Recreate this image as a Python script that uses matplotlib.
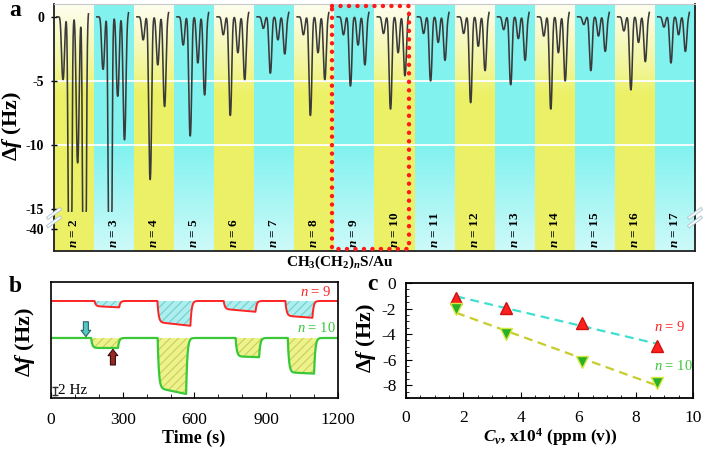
import numpy as np
import matplotlib
matplotlib.use('Agg')
import matplotlib.pyplot as plt
import matplotlib.transforms as mtransforms
from matplotlib.ticker import MultipleLocator, FixedLocator
from matplotlib.patches import Rectangle

plt.rcParams['font.family'] = 'Liberation Serif'
plt.rcParams['mathtext.fontset'] = 'custom'
plt.rcParams['mathtext.rm'] = 'Liberation Serif'
plt.rcParams['mathtext.it'] = 'Liberation Serif:italic'
plt.rcParams['mathtext.bf'] = 'Liberation Serif:bold'
plt.rcParams['mathtext.sf'] = 'Liberation Serif:bold:italic'
plt.rcParams['axes.unicode_minus'] = False
plt.rcParams['hatch.linewidth'] = 0.8

# ==========================================
# Dados - painel a (4 pulsos por comprimento de cadeia, Hz)
n_cadeia = list(range(2, 18))
picos_a = [
    [-4.9, -40.0, -11.4, -40.0],   # n = 2 (picos fora da escala)
    [-4.1, -40.0, -6.2, -9.6],     # n = 3
    [-1.8, -12.7, -3.75, -7.0],    # n = 4
    [-2.2, -9.3, -3.6, -6.1],      # n = 5
    [-1.4, -7.7, -2.8, -4.9],      # n = 6
    [-0.9, -4.4, -1.8, -2.9],      # n = 7
    [-1.4, -7.7, -2.8, -4.9],      # n = 8
    [-1.4, -5.4, -2.2, -3.75],     # n = 9
    [-1.3, -7.2, -2.8, -4.6],      # n = 10
    [-1.3, -5.0, -2.0, -3.4],      # n = 11
    [-1.3, -6.7, -2.3, -4.2],      # n = 12
    [-1.0, -5.3, -1.7, -3.4],      # n = 13
    [-1.5, -7.2, -2.8, -5.0],      # n = 14
    [-0.6, -4.2, -1.5, -2.7],      # n = 15
    [-1.1, -5.7, -2.0, -3.5],      # n = 16
    [-0.8, -3.6, -1.4, -2.7],      # n = 17
]
destaque = [9, 10]

# Dados - painel b (início s, fim s, nível inicial Hz, nível final Hz)
degraus_n9 = [
    (182, 285, -1.3, -1.6),
    (445, 583, -5.3, -6.2),
    (722, 855, -2.0, -2.7),
    (980, 1093, -3.7, -4.2),
]
degraus_n10 = [
    (168, 280, -2.5, -2.5),
    (446, 565, -12.5, -14.0),
    (772, 870, -4.6, -4.8),
    (990, 1100, -8.6, -8.9),
]
tempo_ticks = [0, 300, 600, 900, 1200]

# Dados - painel c
conc = [1.75, 3.5, 6.12, 8.75]
df_n9 = [-1.15, -1.95, -3.15, -4.9]
df_n10 = [-2.05, -4.0, -6.15, -7.8]

# ==========================================
fig = plt.figure(figsize=(7.03, 4.5), dpi=100)

pos_a = [0.0768, 0.4422, 0.9118, 0.5489]
amarelo = np.array([0.925, 0.945, 0.40])
ciano = np.array([0.51, 0.95, 0.94])

# fundo em gradiente por coluna
ax_bg = fig.add_axes(pos_a)
ax_bg.set_axis_off()
t = np.linspace(0, 1, 200)[:, None]
for i in range(len(n_cadeia)):
    if i % 2 == 0:
        base = amarelo
        w = np.clip((t - 0.64) / 0.36, 0, 1) ** 0.8 * 0.9
    else:
        base = ciano
        w = np.clip((0.42 - t) / 0.42, 0, 1) * 0.6
    rgb = base[None, None, :] * (1 - w[..., None]) + w[..., None]
    ax_bg.imshow(rgb, extent=(i, i + 1, 0, 1), origin='lower', aspect='auto',
                 interpolation='bilinear')
ax_bg.set_xlim(0, len(n_cadeia))
ax_bg.set_ylim(0, 1)

# eixo com quebra em -15
corte = -15.0
fator = 0.0625
def fwd(y):
    y = np.asarray(y, dtype=float)
    return np.where(y >= corte, y, corte + (y - corte) * fator)
def inv(p):
    p = np.asarray(p, dtype=float)
    return np.where(p >= corte, p, corte + (p - corte) / fator)

ax_a = fig.add_axes(pos_a)
ax_a.set_facecolor('none')
ax_a.set_yscale('function', functions=(fwd, inv))
ax_a.set_xlim(0, len(n_cadeia))
ax_a.set_ylim(float(inv(-18.28)), 1.0)

for yv in [-5, -10]:
    ax_a.axhline(yv, color='white', lw=1.3, zorder=1)

clip = Rectangle((0, float(inv(-15.22))), len(n_cadeia), 40, transform=ax_a.transData)
pos_rel = [0.225, 0.40, 0.59, 0.76]
xl = np.linspace(0.07, 0.86, 700)
for i, picos in enumerate(picos_a):
    y = np.zeros_like(xl)
    for c, d in zip(pos_rel, picos):
        y += d * np.exp(-0.5 * np.abs((xl - c) / 0.036) ** 2.4)
    y += 0.35 * np.clip((xl - 0.82) / 0.04, 0, 1) ** 2
    ln, = ax_a.plot(i + xl, y, color='#3a3a3a', lw=1.15, zorder=3)
    ln.set_clip_path(clip)

# rótulos das colunas
trans_a = mtransforms.blended_transform_factory(ax_a.transData, ax_a.transAxes)
for i, n in enumerate(n_cadeia):
    ax_a.text(i + 0.5, 0.012, '$\\mathsf{n}$ = %d' % n, rotation=90, ha='center',
              va='bottom', fontsize=9.5, fontweight='bold', transform=trans_a, zorder=4)

# retângulo pontilhado em n = 9 e 10
i0 = n_cadeia.index(destaque[0])
i1 = n_cadeia.index(destaque[-1])
x0, x1 = i0 - 0.05, i1 + 0.87
ax_a.plot([x0, x1, x1, x0, x0], [0.992, 0.992, 0.008, 0.008, 0.992], transform=trans_a,
          color='#ff1a1a', lw=3.2, linestyle=(0, (0.01, 1.9)), dash_capstyle='round',
          clip_on=False, zorder=5)

ax_a.set_yticks([0, -5, -10, -15, -40])
ax_a.set_yticklabels(['0', '-5', '-10', '-15', '-40'])
ax_a.yaxis.set_minor_locator(FixedLocator([]))
ax_a.set_xticks([])
ax_a.tick_params(axis='y', direction='inout', length=4, width=1, pad=5, labelsize=10)
for lbl in ax_a.get_yticklabels():
    lbl.set_fontweight('bold')
for s in ['left', 'bottom', 'right']:
    ax_a.spines[s].set_linewidth(1.3)
    ax_a.spines[s].set_color('#202020')
ax_a.spines['top'].set_color('#c8c8c8')
ax_a.spines['top'].set_linewidth(0.8)

# marcas de quebra do eixo
for xc in [0.0, 1.0]:
    for yc in [0.152, 0.118]:
        xs = [xc - 0.009, xc + 0.009]
        ys = [yc - 0.017, yc + 0.017]
        ax_a.plot(xs, ys, transform=ax_a.transAxes, color='#b8ccd8', lw=2.6,
                  clip_on=False, zorder=6)
        ax_a.plot(xs, ys, transform=ax_a.transAxes, color='white', lw=1.1,
                  clip_on=False, zorder=7)

fig.text(12 / 703, 1 - 126 / 450, 'Δ$\\mathsf{f}$ (Hz)', rotation=90, ha='center',
         va='center', fontsize=16, fontweight='bold')
fig.text(340 / 703, 1 - 262 / 450, 'CH$_\\mathbf{3}$(CH$_\\mathbf{2}$)$_\\mathsf{n}$S/Au',
         ha='center', va='center', fontsize=11, fontweight='bold')
fig.text(15 / 703, 1 - 11 / 450, 'a', ha='center', va='center', fontsize=17, fontweight='bold')

# ==========================================
# painel b
ax_b = fig.add_axes([0.0725, 0.1156, 0.4083, 0.2578])
tempo = np.linspace(0, 1200, 4801)

def traco(degraus, tau=5.0):
    y = np.zeros_like(tempo)
    for ini, fim, d0, d1 in degraus:
        nivel = d0 + (d1 - d0) * np.clip((tempo - ini) / (fim - ini), 0, 1)
        dentro = (tempo >= ini) & (tempo <= fim)
        y += np.where(dentro, nivel * (1 - np.exp(-(tempo - ini) / tau)), 0)
        y_fim = d1 * (1 - np.exp(-(fim - ini) / tau))
        y += np.where(tempo > fim, y_fim * np.exp(-np.clip(tempo - fim, 0, None) / tau), 0)
    return y

base9, base10 = 0.0, -9.25
y9 = base9 + traco(degraus_n9)
y10 = base10 + traco(degraus_n10)
ax_b.fill_between(tempo, base9, y9, facecolor='#aeeeee', edgecolor='#6fcfcf',
                  hatch='////', linewidth=0)
ax_b.fill_between(tempo, base10, y10, facecolor='#eef28e', edgecolor='#c9d052',
                  hatch='////', linewidth=0)
ax_b.plot(tempo, y9, color='#ff2424', lw=1.4)
ax_b.plot(tempo, y10, color='#38c838', lw=1.6)

ax_b.text(1172, 2.3, '$\\mathit{n}$ = 9', color='#ff2424', ha='right', va='center', fontsize=10.5)
ax_b.text(1190, -6.8, '$\\mathit{n}$ = 10', color='#38c838', ha='right', va='center', fontsize=10.5)

estilo = 'simple,head_length=0.45,head_width=0.7,tail_width=0.36'
ax_b.annotate('', xy=(146, -8.9), xytext=(146, -5.2),
              arrowprops=dict(arrowstyle=estilo, mutation_scale=10, shrinkA=0, shrinkB=0,
                              fc='#52c8c4', ec='#2a6468', lw=0.8))
ax_b.annotate('', xy=(259, -12.1), xytext=(259, -16.0),
              arrowprops=dict(arrowstyle=estilo, mutation_scale=10, shrinkA=0, shrinkB=0,
                              fc='#962828', ec='#3a0c0c', lw=0.8))

ax_b.plot([18, 18], [-21.5, -23.5], color='#303030', lw=1.0, marker='_', ms=5, mew=1.0)
ax_b.text(28, -22.5, '2 Hz', ha='left', va='center', fontsize=11)

ax_b.set_xlim(0, 1200)
ax_b.set_ylim(-24.25, 4.75)
ax_b.set_xticks(tempo_ticks)
ax_b.xaxis.set_minor_locator(MultipleLocator(100))
ax_b.set_yticks([])
ax_b.tick_params(axis='x', which='both', direction='in', top=False, labelsize=12.5, pad=10)
ax_b.tick_params(axis='x', which='major', length=4)
ax_b.tick_params(axis='x', which='minor', length=3)
for s in ax_b.spines.values():
    s.set_linewidth(1.2)

fig.text(25 / 703, 1 - 342 / 450, 'Δ$\\mathsf{f}$ (Hz)', rotation=90, ha='center',
         va='center', fontsize=16, fontweight='bold')
fig.text(194 / 703, 1 - 438 / 450, 'Time (s)', ha='center', va='center', fontsize=13,
         fontweight='bold')
fig.text(15 / 703, 1 - 286 / 450, 'b', ha='center', va='center', fontsize=17, fontweight='bold')

# ==========================================
# painel c
ax_c = fig.add_axes([0.5775, 0.1156, 0.4083, 0.2556])
xx = np.array([conc[0], conc[-1]])
a9 = np.polyfit(conc, df_n9, 1)
a10 = np.polyfit(conc, df_n10, 1)
ax_c.plot(xx, np.polyval(a9, xx), color='#3fe0d0', lw=1.6, linestyle=(0, (4, 2.5)), zorder=2)
ax_c.plot(xx, np.polyval(a10, xx), color='#c8cc2c', lw=1.6, linestyle=(0, (4, 2.5)), zorder=2)
ax_c.plot(conc, df_n9, linestyle='none', marker='^', ms=8, mfc='#ff2020', mec='#d01010', zorder=3)
ax_c.plot(conc, df_n10, linestyle='none', marker='v', ms=8, mfc='#28b028', mec='#d8e840', zorder=3)

ax_c.text(9.2, -3.45, '$\\mathit{n}$ = 9', color='#ff2424', ha='center', va='center', fontsize=10.5)
ax_c.text(9.3, -6.5, '$\\mathit{n}$ = 10', color='#38c838', ha='center', va='center', fontsize=10.5)

ax_c.set_xlim(0, 10)
ax_c.set_ylim(-9, 0)
ax_c.xaxis.set_major_locator(MultipleLocator(2))
ax_c.xaxis.set_minor_locator(MultipleLocator(0.5))
ax_c.yaxis.set_major_locator(MultipleLocator(2))
ax_c.yaxis.set_minor_locator(MultipleLocator(0.5))
ax_c.tick_params(which='both', direction='in', labelsize=12.5)
ax_c.tick_params(axis='x', pad=9)
ax_c.tick_params(axis='y', pad=7)
ax_c.tick_params(which='major', length=4)
ax_c.tick_params(which='minor', length=2)
for s in ax_c.spines.values():
    s.set_linewidth(1.3)

fig.text(366 / 703, 1 - 338 / 450, 'Δ$\\mathsf{f}$ (Hz)', rotation=90, ha='center',
         va='center', fontsize=16, fontweight='bold')
fig.text(550 / 703, 1 - 437 / 450, '$\\mathsf{C}_\\mathsf{v}$, x10$^\\mathbf{4}$ (ppm (v))',
         ha='center', va='center', fontsize=12.5, fontweight='bold')
fig.text(372 / 703, 1 - 285 / 450, 'c', ha='center', va='center', fontsize=17, fontweight='bold')

fig.savefig('out.png', dpi=100)
